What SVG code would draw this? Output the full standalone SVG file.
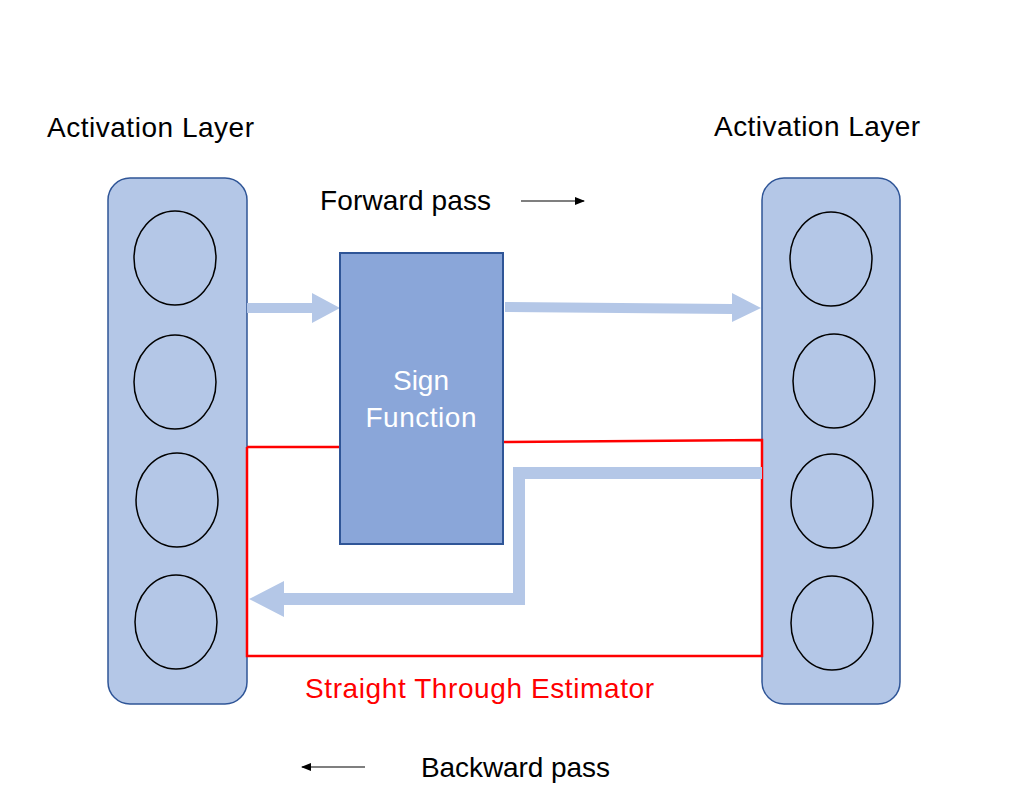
<svg xmlns="http://www.w3.org/2000/svg" width="1014" height="802" viewBox="0 0 1014 802">
<defs>
<style>
.layer{fill:#B4C7E7;stroke:#2F5597;stroke-width:1.5}
.neuron{fill:none;stroke:#000;stroke-width:1.5}
.lbl{font-family:"Liberation Sans",Arial,sans-serif;font-size:28px;fill:#000}
.white{fill:#fff}
.red{fill:#FF0000}
.flow{fill:#B4C7E7;stroke:none}
.ste{fill:none;stroke:#FF0000;stroke-width:2.5}
.thin{stroke:#000;stroke-width:1.2;fill:none}
</style>
<marker id="ah" markerWidth="10" markerHeight="8" refX="9" refY="4" orient="auto" markerUnits="userSpaceOnUse">
<path d="M0,0 L10,4 L0,8 Z" fill="#000"/>
</marker>
</defs>
<rect width="1014" height="802" fill="#fff"/>

<g id="left-layer">
<rect class="layer" x="108" y="178" width="139" height="526" rx="22"/>
<ellipse class="neuron" cx="175" cy="258" rx="41" ry="47"/>
<ellipse class="neuron" cx="175" cy="382" rx="41" ry="47"/>
<ellipse class="neuron" cx="177" cy="500" rx="41" ry="47"/>
<ellipse class="neuron" cx="176" cy="622" rx="41" ry="47"/>
</g>

<g id="right-layer">
<rect class="layer" x="762" y="178" width="138" height="526" rx="22"/>
<ellipse class="neuron" cx="831" cy="259" rx="41" ry="47"/>
<ellipse class="neuron" cx="834" cy="381" rx="41" ry="47"/>
<ellipse class="neuron" cx="832" cy="501" rx="41" ry="47"/>
<ellipse class="neuron" cx="832" cy="623" rx="41" ry="47"/>
</g>

<g id="connectors">
<path class="ste" d="M247,447 L340,447"/>
<path class="ste" d="M503,442 L762,440 L762,656 L247,656 L247,447"/>
<path class="flow" d="M247,303 L312,303 L312,293 L340,308 L312,323 L312,313 L247,313 Z"/>
<path class="flow" d="M505,302 L732,304 L732,293 L761,308 L732,322 L732,314 L505,312 Z"/>
<path class="flow" d="M762,467 L513,467 L513,593 L284,593 L284,581 L249,599 L284,617 L284,605 L525,605 L525,479 L762,479 Z"/>
<line class="thin" x1="521" y1="201" x2="584" y2="201" marker-end="url(#ah)"/>
<line class="thin" x1="365" y1="767" x2="302" y2="767" marker-end="url(#ah)"/>
</g>

<g id="sign-function">
<rect x="340" y="253" width="163" height="291" fill="#8AA6D9" stroke="#2F5597" stroke-width="2"/>
<text class="lbl white" x="421" y="390" text-anchor="middle">Sign</text>
<text class="lbl white" x="421" y="427" text-anchor="middle" textLength="111">Function</text>
</g>

<g id="labels">
<text class="lbl" x="47" y="137" textLength="207">Activation Layer</text>
<text class="lbl" x="714" y="136" textLength="206">Activation Layer</text>
<text class="lbl" x="320" y="210" textLength="171">Forward pass</text>
<text class="lbl red" x="305" y="698" textLength="349">Straight Through Estimator</text>
<text class="lbl" x="421" y="777" textLength="189">Backward pass</text>
</g>
</svg>
